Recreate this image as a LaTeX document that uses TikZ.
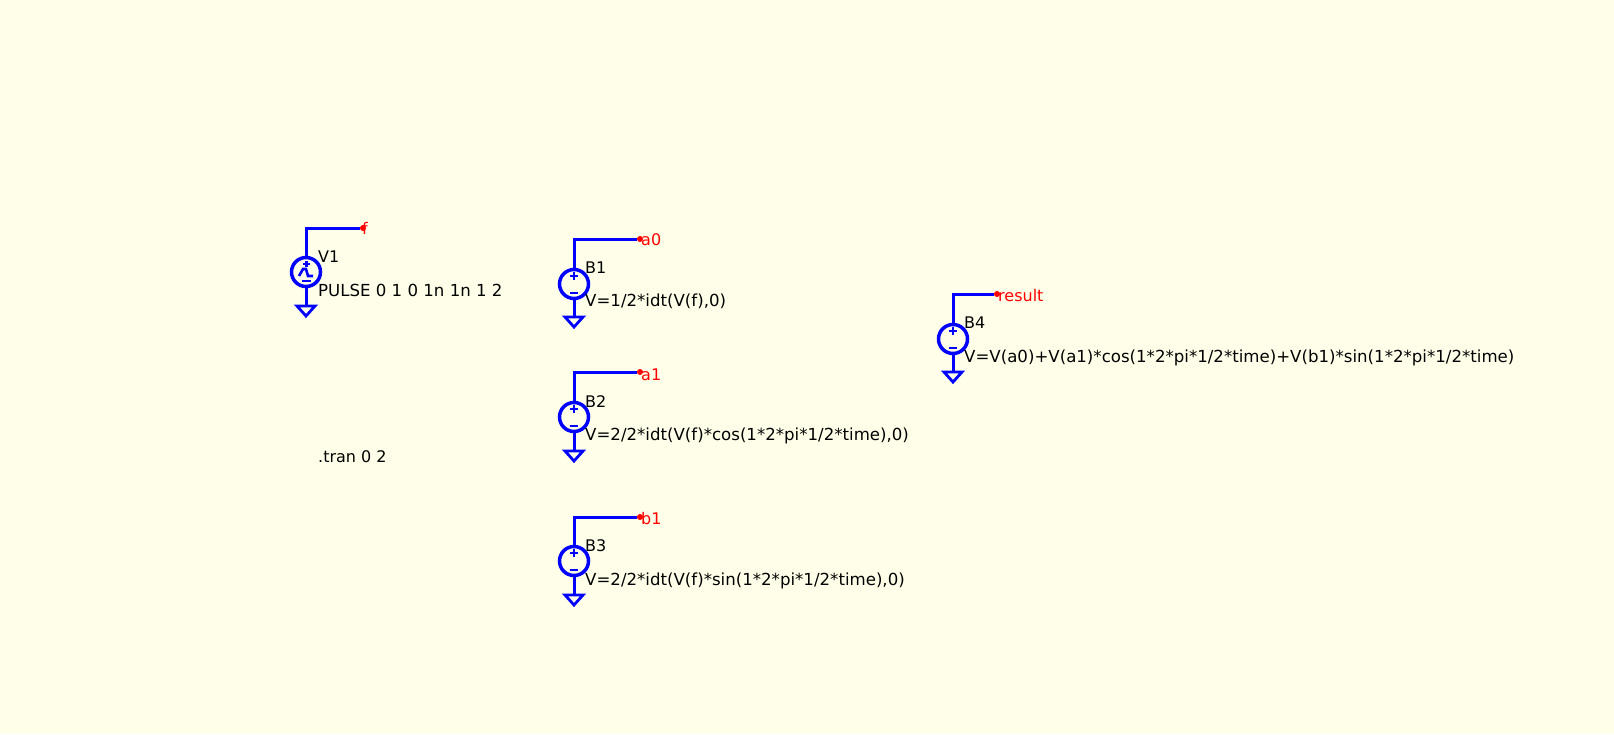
\documentclass[tikz,border=0pt]{standalone}
\usepackage{fontspec}
\setmainfont{DejaVu Sans}
\usetikzlibrary{positioning,shapes.geometric}
\definecolor{sheet}{HTML}{FFFFE9}

\begin{document}
\begin{tikzpicture}[
  x=1pt, y=-1pt,
  wire/.style={
    draw=blue,
    line width=3pt
  },
  source/.style={
    circle,
    draw=blue,
    line width=3.5pt,
    minimum size=29pt,
    inner sep=0pt,
    outer sep=0pt
  },
  polarity/.style={
    draw=blue,
    line width=2.6pt
  },
  ground/.style={
    isosceles triangle,
    isosceles triangle stretches,
    shape border rotate=-90,
    draw=blue,
    line width=2.8pt,
    minimum width=18pt,
    minimum height=10pt,
    inner sep=0pt,
    outer sep=0pt,
    anchor=apex
  },
  net dot/.style={
    circle,
    fill=red,
    minimum size=6pt,
    inner sep=0pt,
    outer sep=0pt
  },
  net label/.style={
    text=red,
    font=\fontsize{16pt}{18pt}\selectfont,
    inner sep=0pt,
    anchor=west
  },
  spice text/.style={
    text=black,
    font=\fontsize{16pt}{18pt}\selectfont,
    inner sep=0pt,
    anchor=west
  },
  spice value/.style={
    spice text,
    font=\fontsize{16.6pt}{18pt}\selectfont
  }
  ]
\useasboundingbox[fill=sheet] (0,0) rectangle (1614,734);
% V1
\node [source] (V1 source) at (306,272) {};
\node [net dot] (f dot) at (363,228) {};
\coordinate (V1 corner) at (306,228);
\node [ground] (V1 ground) at (306,316) {};
\draw [wire] (V1 source) -- (V1 corner) -- (f dot);
\draw [wire] (V1 source) -- (V1 ground.north);
\node [net label] (f label) at (362,228) {f};
\node [spice text] (V1 name) at (318,257) {V1};
\node [spice value] (V1 value) at (318,290) {PULSE 0 1 0 1n 1n 1 2};
\draw [polarity] (299,276) -- (303,269) -- (306,269) -- (308,276) -- (313,276);
\draw [polarity] (303,264) -- (310,264) (306.5,261) -- (306.5,267);
\draw [polarity] (302,281) -- (311,281);
% B1
\node [source] (B1 source) at (574,284) {};
\node [net dot] (a0 dot) at (640,239) {};
\coordinate (B1 corner) at (574,239);
\node [ground] (B1 ground) at (574,327) {};
\draw [wire] (B1 source) -- (B1 corner) -- (a0 dot);
\draw [wire] (B1 source) -- (B1 ground.north);
\node [net label] (a0 label) at (641,240) {a0};
\node [spice text] (B1 name) at (585,268) {B1};
\node [spice value] (B1 value) at (585,301) {V=1/2*idt(V(f),0)};
% B2
\node [source] (B2 source) at (574,417) {};
\node [net dot] (a1 dot) at (640,372) {};
\coordinate (B2 corner) at (574,372);
\node [ground] (B2 ground) at (574,461) {};
\draw [wire] (B2 source) -- (B2 corner) -- (a1 dot);
\draw [wire] (B2 source) -- (B2 ground.north);
\node [net label] (a1 label) at (641,375) {a1};
\node [spice text] (B2 name) at (585,402) {B2};
\node [spice value] (B2 value) at (585,436) {V=2/2*idt(V(f)*cos(1*2*pi*1/2*time),0)};
% B3
\node [source] (B3 source) at (574,561) {};
\node [net dot] (b1 dot) at (640,517) {};
\coordinate (B3 corner) at (574,517);
\node [ground] (B3 ground) at (574,605) {};
\draw [wire] (B3 source) -- (B3 corner) -- (b1 dot);
\draw [wire] (B3 source) -- (B3 ground.north);
\node [net label] (b1 label) at (641,519) {b1};
\node [spice text] (B3 name) at (585,546) {B3};
\node [spice value] (B3 value) at (585,581) {V=2/2*idt(V(f)*sin(1*2*pi*1/2*time),0)};
% B4
\node [source] (B4 source) at (953,339) {};
\node [net dot] (result dot) at (997,294) {};
\coordinate (B4 corner) at (953,294);
\node [ground] (B4 ground) at (953,382) {};
\draw [wire] (B4 source) -- (B4 corner) -- (result dot);
\draw [wire] (B4 source) -- (B4 ground.north);
\node [net label] (result label) at (998,296) {result};
\node [spice text] (B4 name) at (964,323) {B4};
\node [spice value] (B4 value) at (964,358) {V=V(a0)+V(a1)*cos(1*2*pi*1/2*time)+V(b1)*sin(1*2*pi*1/2*time)};
% Polarity marks
\foreach \cx/\cy in {574/284,574/417,574/561,953/339} {
  \draw [polarity] (\cx-4,\cy-8) -- (\cx+4,\cy-8) (\cx,\cy-12) -- (\cx,\cy-4);
  \draw [polarity] (\cx-4,\cy+9) -- (\cx+4,\cy+9);
}
% Directive
\node [spice text] (tran) at (318,457) {.tran 0 2};
\end{tikzpicture}
\end{document}
